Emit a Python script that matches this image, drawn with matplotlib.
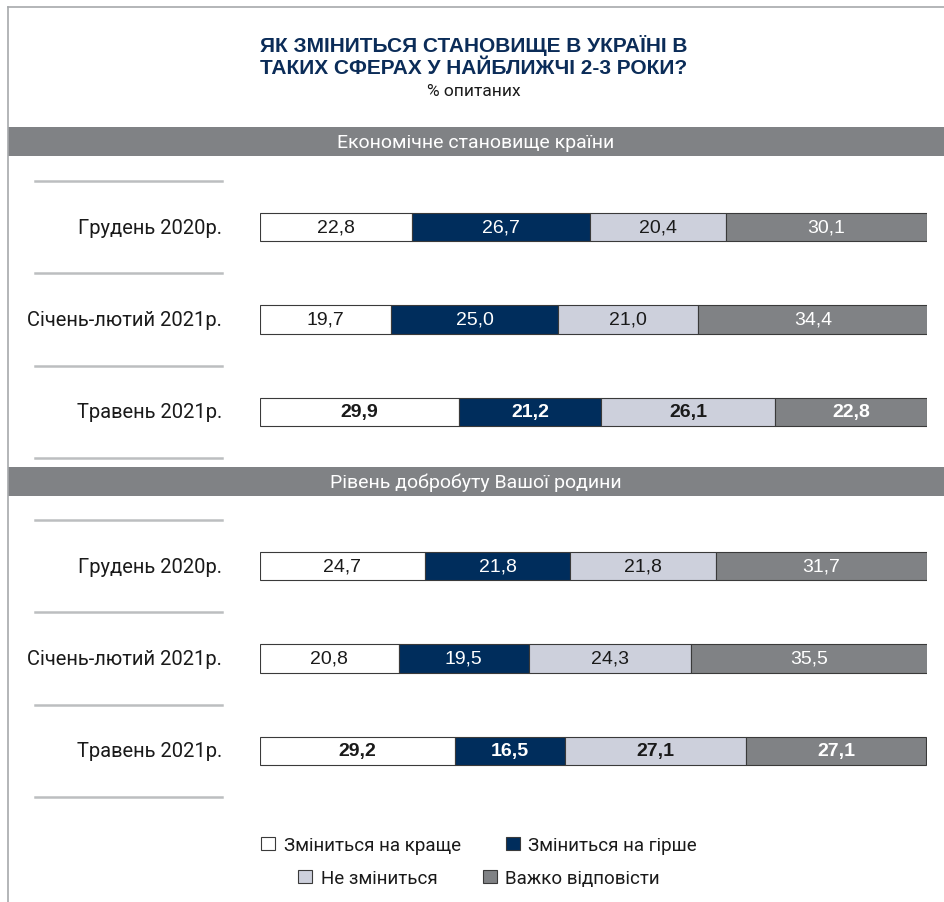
import matplotlib
matplotlib.use("Agg")
import matplotlib.pyplot as plt
from matplotlib.lines import Line2D
from matplotlib.patches import Rectangle
import matplotlib.transforms as mtransforms

plt.rcParams['font.family'] = ['Liberation Sans', 'DejaVu Sans']

title_lines = ["ЯК ЗМІНИТЬСЯ СТАНОВИЩЕ В УКРАЇНІ В", "ТАКИХ СФЕРАХ У НАЙБЛИЖЧІ 2-3 РОКИ?"]
subtitle = "% опитаних"
sections = ["Економічне становище країни", "Рівень добробуту Вашої родини"]
periods = ["Грудень 2020р.", "Січень-лютий 2021р.", "Травень 2021р."]
series_names = ["Зміниться на краще", "Зміниться на гірше", "Не зміниться", "Важко відповісти"]

econ_better = [22.8, 19.7, 29.9]
econ_worse = [26.7, 25.0, 21.2]
econ_same = [20.4, 21.0, 26.1]
econ_hard = [30.1, 34.4, 22.8]

fam_better = [24.7, 20.8, 29.2]
fam_worse = [21.8, 19.5, 16.5]
fam_same = [21.8, 24.3, 27.1]
fam_hard = [31.7, 35.5, 27.1]

colors = ["#ffffff", "#002d5c", "#cdd0dc", "#808285"]
text_colors = ["#1a1a1a", "#ffffff", "#1a1a1a", "#ffffff"]
navy = "#0b2c58"
band_color = "#808285"
sep_color = "#bcbec0"
frame_color = "#a7a9ac"
roboto = ["Roboto", "DejaVu Sans"]

W, H = 944, 903
fig = plt.figure(figsize=(W / 100, H / 100), dpi=100)


def fx(px):
    return px / W


def fy(py):
    return 1 - py / H


# frame lines (top and left)
fig.add_artist(Line2D([fx(8), 1], [fy(8), fy(8)], color=frame_color, lw=1.2))
fig.add_artist(Line2D([fx(8), fx(8)], [fy(8), 0], color=frame_color, lw=1.2))

# title
fig.text(fx(474), fy(56), "\n".join(title_lines), ha="center", va="center",
         fontsize=15, fontweight="bold", color=navy, linespacing=1.2)
fig.text(fx(474), fy(92), subtitle, ha="center", va="center", fontsize=12.5,
         color="#1a1a1a", family=roboto)

section_data = [
    [econ_better, econ_worse, econ_same, econ_hard],
    [fam_better, fam_worse, fam_same, fam_hard],
]
band_tops = [128, 468]
axes_tops = [182, 521]
axes_h = 277

handles = None
for s, (name, data) in enumerate(zip(sections, section_data)):
    bt = band_tops[s]
    fig.add_artist(Rectangle((fx(8), fy(bt + 29)), 1 - fx(8), 29 / H,
                             facecolor=band_color, edgecolor="none"))
    fig.text(fx(476), fy(bt + 15), name, ha="center", va="center", fontsize=14,
             color="#ffffff", family=roboto)

    ax = fig.add_axes([fx(260), fy(axes_tops[s] + axes_h), fx(927) - fx(260), axes_h / H])
    ax.set_xlim(0, 100)
    ax.set_ylim(2.5, -0.5)
    ax.axis("off")
    ypos = list(range(len(periods)))
    left = [0.0] * len(periods)
    conts = []
    for k, vals in enumerate(data):
        c = ax.barh(ypos, vals, left=left, height=0.31, color=colors[k],
                    edgecolor="#3a3a3a", linewidth=0.8, label=series_names[k])
        conts.append(c)
        for i, v in enumerate(vals):
            bold = (i == len(periods) - 1)
            ax.text(left[i] + v / 2, i, f"{v:.1f}".replace(".", ","), ha="center",
                    va="center", fontsize=14, color=text_colors[k],
                    fontweight="bold" if bold else "normal")
        left = [l + v for l, v in zip(left, vals)]
    if handles is None:
        handles = conts

    trans = mtransforms.blended_transform_factory(fig.transFigure, ax.transData)
    for i, p in enumerate(periods):
        ax.text(fx(222), i, p, transform=trans, ha="right", va="center", fontsize=14.5,
                color="#1a1a1a", family=roboto)
    for yl in [-0.5, 0.5, 1.5, 2.5]:
        ax.add_artist(Line2D([fx(35), fx(222)], [yl, yl], transform=trans,
                             color=sep_color, lw=1.8, clip_on=False))

leg_kw = dict(frameon=False, ncol=2, handlelength=0.75, handleheight=0.75,
              handletextpad=0.45, columnspacing=2.4, borderaxespad=0,
              prop={"family": roboto, "size": 13.5})
leg1 = fig.legend([handles[0], handles[1]], [series_names[0], series_names[1]],
                  loc="center", bbox_to_anchor=(fx(479), fy(846)), **leg_kw)
leg2 = fig.legend([handles[2], handles[3]], [series_names[2], series_names[3]],
                  loc="center", bbox_to_anchor=(fx(479), fy(879)), **leg_kw)
for leg in (leg1, leg2):
    for t in leg.get_texts():
        t.set_color("#1a1a1a")

fig.savefig("out.png", dpi=100)
